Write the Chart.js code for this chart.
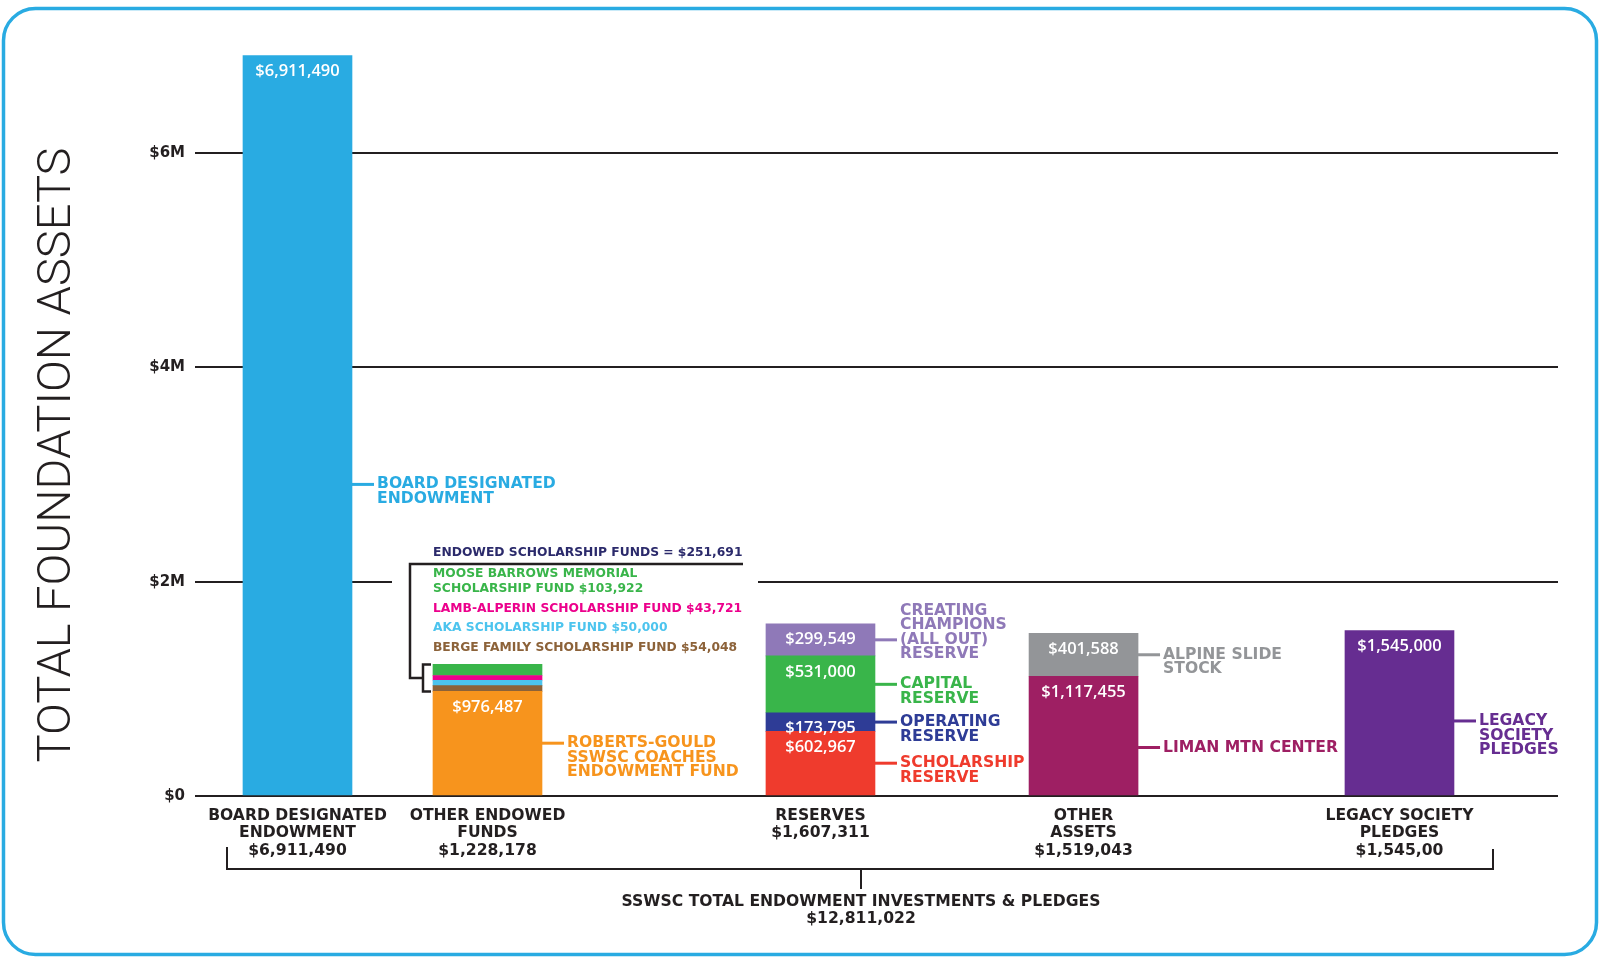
<!DOCTYPE html>
<html>
<head>
<meta charset="utf-8">
<script src="https://cdn.jsdelivr.net/npm/chart.js@4.4.1/dist/chart.umd.min.js"></script>
<style>
  html, body { margin: 0; padding: 0; background: #fff; }
  #wrap { position: relative; width: 1600px; height: 963px; }
</style>
</head>
<body>
<div id="wrap"><canvas id="assetsChart"></canvas></div>
<script>
// ---- data ----
const categories = [['BOARD DESIGNATED', 'ENDOWMENT'], ['OTHER ENDOWED', 'FUNDS'], ['RESERVES'], ['OTHER', 'ASSETS'], ['LEGACY SOCIETY', 'PLEDGES']];
const categoryTotals = ['$6,911,490', '$1,228,178', '$1,607,311', '$1,519,043', '$1,545,00'];

// stacked segments, bottom to top within each column
const segNames = [
    'Board Designated Endowment',
    'Roberts-Gould SSWSC Coaches Endowment Fund',
    'Berge Family Scholarship Fund',
    'AKA Scholarship Fund',
    'Lamb-Alperin Scholarship Fund',
    'Moose Barrows Memorial Scholarship Fund',
    'Scholarship Reserve',
    'Operating Reserve',
    'Capital Reserve',
    'Creating Champions (All Out) Reserve',
    'Liman Mtn Center',
    'Alpine Slide Stock',
    'Legacy Society Pledges'
];
const segValues = [6911490, 976487, 54048, 50000, 43721, 103922, 602967, 173795, 531000, 299549, 1117455, 401588, 1545000];
const segCategory = [0, 1, 1, 1, 1, 1, 2, 2, 2, 2, 3, 3, 4];

const yTicks = [0, 2000000, 4000000, 6000000];
const yTickLabels = ['$0', '$2M', '$4M', '$6M'];

const axisTitle = 'TOTAL FOUNDATION ASSETS';
const grandTotal = ['SSWSC TOTAL ENDOWMENT INVESTMENTS & PLEDGES', '$12,811,022'];
const scholarshipHeader = 'ENDOWED SCHOLARSHIP FUNDS = $251,691';
const scholarshipList = [
    { seg: 5, lines: ['MOOSE BARROWS MEMORIAL', 'SCHOLARSHIP FUND $103,922'] },
    { seg: 4, lines: ['LAMB-ALPERIN SCHOLARSHIP FUND $43,721'] },
    { seg: 3, lines: ['AKA SCHOLARSHIP FUND $50,000'] },
    { seg: 2, lines: ['BERGE FAMILY SCHOLARSHIP FUND $54,048'] }
];

// ---- layout / style ----
const barSlots = [7.52, 21.46, 45.89, 65.19, 88.37]; // column centres on a 0..100 x scale
const segColors = ['#29abe2', '#f7941d', '#8c6239', '#4cc4ee', '#ec008c', '#39b54a',
                   '#ef3b2d', '#2e3c96', '#39b54a', '#8f79b8', '#9e1f63', '#939598', '#662d91'];
const showValue = [true, true, false, false, false, false, true, true, true, true, true, true, true];
// callout text to the right of a segment; at = where on the segment the leader sits, lead = which line it points to
const callouts = [
    { lines: ['BOARD DESIGNATED', 'ENDOWMENT'], at: 0.42, lead: 0 },
    { lines: ['ROBERTS-GOULD', 'SSWSC COACHES', 'ENDOWMENT FUND'], at: 0.5, lead: 0 },
    null, null, null, null,
    { lines: ['SCHOLARSHIP', 'RESERVE'], at: 0.5, lead: 0 },
    { lines: ['OPERATING', 'RESERVE'], at: 0.5, lead: 0 },
    { lines: ['CAPITAL', 'RESERVE'], at: 0.5, lead: 0 },
    { lines: ['CREATING', 'CHAMPIONS', '(ALL OUT)', 'RESERVE'], at: 0.5, lead: 2 },
    { lines: ['LIMAN MTN CENTER'], at: 0.4, lead: 0 },
    { lines: ['ALPINE SLIDE', 'STOCK'], at: 0.5, lead: 0 },
    { lines: ['LEGACY', 'SOCIETY', 'PLEDGES'], at: 0.45, lead: 0 }
];

const INK = '#231f20';
const BOLD = "bold 15.6px 'DejaVu Sans'";
const valueFont = "600 16.5px 'Open Sans'";

function fmt(v) {
    return '$' + v.toLocaleString('en-US');
}

function line(ctx, pts) {
    ctx.beginPath();
    ctx.moveTo(pts[0][0], pts[0][1]);
    for (let i = 1; i < pts.length; i++) ctx.lineTo(pts[i][0], pts[i][1]);
    ctx.stroke();
}

const datasets = segValues.map((v, i) => ({
    label: segNames[i],
    data: [{ x: barSlots[segCategory[i]], y: v }],
    backgroundColor: segColors[i],
    borderWidth: 0,
    barThickness: 109
}));

const overlay = {
    id: 'overlay',
    beforeDatasetsDraw(chart) {
        // gap in the $2M line behind the scholarship fund list
        const { ctx, scales: { y } } = chart;
        const gy = y.getPixelForValue(yTicks[1]);
        ctx.save();
        ctx.fillStyle = '#fff';
        ctx.fillRect(392, gy - 3, 366, 6);
        ctx.restore();
    },
    afterDatasetsDraw(chart) {
        const { ctx, scales: { y } } = chart;
        ctx.save();
        ctx.textBaseline = 'middle';
        ctx.lineCap = 'butt';

        chart.data.datasets.forEach((ds, i) => {
            const el = chart.getDatasetMeta(i).data[0];
            const right = el.x + el.width / 2;
            if (showValue[i]) {
                ctx.font = valueFont;
                ctx.fillStyle = '#fff';
                ctx.textAlign = 'center';
                ctx.fillText(fmt(segValues[i]), el.x, el.y + 16);
            }
            const c = callouts[i];
            if (c) {
                const ly = el.base - (el.base - el.y) * c.at;
                ctx.strokeStyle = segColors[i];
                ctx.lineWidth = 3;
                line(ctx, [[right, ly], [right + 22, ly]]);
                ctx.font = BOLD;
                ctx.fillStyle = segColors[i];
                ctx.textAlign = 'left';
                c.lines.forEach((t, k) => ctx.fillText(t, right + 25, ly + (k - c.lead) * 14.5));
            }
        });

        // scholarship fund list with its bracket
        const fundsEl = chart.getDatasetMeta(1).data[0];
        const fundsLeft = fundsEl.x - fundsEl.width / 2;
        const topY = y.getPixelForValue(segValues[1] + segValues[2] + segValues[3] + segValues[4] + segValues[5]);
        const botY = y.getPixelForValue(segValues[1]);
        ctx.strokeStyle = INK;
        ctx.lineWidth = 2.5;
        line(ctx, [[fundsLeft - 2, topY], [fundsLeft - 10, topY], [fundsLeft - 10, botY], [fundsLeft - 2, botY]]);
        const midY = (topY + botY) / 2;
        line(ctx, [[743, 564], [fundsLeft - 23, 564], [fundsLeft - 23, midY], [fundsLeft - 10, midY]]);

        ctx.textAlign = 'left';
        ctx.font = "bold 12.3px 'DejaVu Sans'";
        ctx.fillStyle = '#2b2a6b';
        ctx.fillText(scholarshipHeader, fundsLeft, 553);
        let ty = 574;
        scholarshipList.forEach(item => {
            ctx.fillStyle = segColors[item.seg];
            item.lines.forEach((t, k) => ctx.fillText(t, fundsLeft, ty + k * 15));
            ty += (item.lines.length - 1) * 15 + 19.5;
        });

        // grand total bracket
        ctx.strokeStyle = INK;
        ctx.lineWidth = 2;
        line(ctx, [[227, 847], [227, 869], [1493, 869], [1493, 849]]);
        line(ctx, [[861, 869], [861, 889]]);
        ctx.font = BOLD;
        ctx.fillStyle = INK;
        ctx.textAlign = 'center';
        ctx.fillText(grandTotal[0], 861, 902);
        ctx.fillText(grandTotal[1], 861, 919);

        // axis title
        ctx.save();
        ctx.translate(58, 455);
        ctx.rotate(-Math.PI / 2);
        ctx.font = "300 47px Roboto";
        ctx.fillStyle = INK;
        ctx.textAlign = 'center';
        ctx.fillText(axisTitle, 0, 0);
        ctx.restore();

        // rounded frame
        ctx.strokeStyle = '#29abe2';
        ctx.lineWidth = 3.5;
        ctx.beginPath();
        ctx.roundRect(3.5, 8.5, 1593, 946, 32);
        ctx.stroke();
        ctx.restore();
    }
};

const ctx = document.getElementById('assetsChart').getContext('2d');
new Chart(ctx, {
    type: 'bar',
    data: { datasets: datasets },
    options: {
        responsive: true,
        maintainAspectRatio: false,
        animation: false,
        layout: { padding: { left: 10, right: 42, top: 46, bottom: 87 } },
        plugins: { legend: { display: false }, tooltip: { enabled: false } },
        scales: {
            x: {
                type: 'linear',
                stacked: true,
                offset: false,
                min: 0,
                max: 100,
                grid: { display: false },
                border: { display: false },
                afterBuildTicks: s => { s.ticks = barSlots.map(v => ({ value: v })); },
                afterFit: s => { s.height = 80; },
                ticks: {
                    autoSkip: false,
                    maxRotation: 0,
                    minRotation: 0,
                    padding: 3,
                    color: INK,
                    font: { family: 'DejaVu Sans', weight: 'bold', size: 15.6, lineHeight: 1.12 },
                    callback: (v, i) => categories[i].concat(categoryTotals[i])
                }
            },
            y: {
                stacked: true,
                min: 0,
                max: 7000000,
                grid: { color: INK, lineWidth: 2, drawTicks: false },
                border: { display: false },
                afterBuildTicks: s => { s.ticks = yTicks.map(v => ({ value: v })); },
                afterFit: s => { s.width = 185; },
                ticks: {
                    padding: 10,
                    color: INK,
                    font: { family: 'DejaVu Sans', weight: 'bold', size: 15 },
                    callback: (v, i) => yTickLabels[i]
                }
            }
        }
    },
    plugins: [overlay]
});
</script>
</body>
</html>
